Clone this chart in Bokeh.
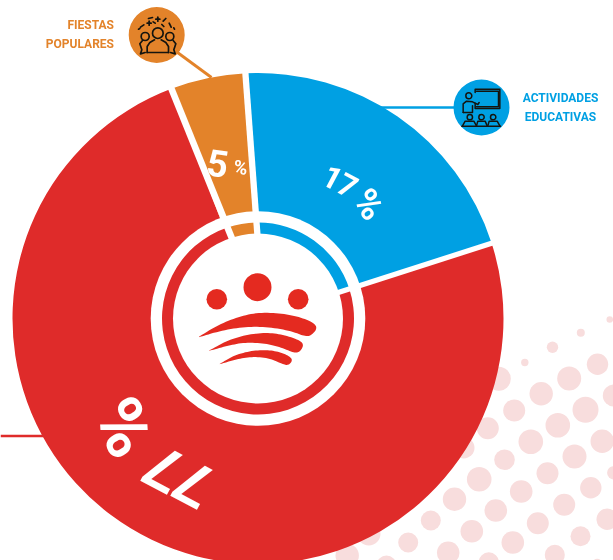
import math
from bokeh.plotting import figure
from bokeh.models import Range1d, ColumnDataSource
from bokeh.embed import file_html
from bokeh.resources import INLINE
from bokeh.core.properties import value

# ---- data ----
categories = ["ACTIVIDADES EDUCATIVAS", "OTRAS", "FIESTAS POPULARES"]
pct_labels = ["17 %", "77 %", "5 %"]
slice_colors = ["#00A0E3", "#DF2B2A", "#E3832A"]
# drawn sweep of each slice as measured on the reference, degrees clockwise from the top
slice_sweep = [74.7, 267.3, 18.0]
slice_start = -2.7
ring_sweep = [72.6, 269.4, 18.0]
ring_start = -0.6

# background halftone dots (page px)
dot_x = [609.3, 580.3, 552, 524.3, 597, 568.7, 540.7, 513.7, 498.3, 613.3, 585, 557.3, 530.3, 487.3, 463.3,
         601.7, 574, 547, 504, 478.7, 520.7, 454, 495.3, 590.3, 563.7, 537.3, 580, 606.7, 512.3, 471.3, 430.3,
         407.7, 447.7, 368.3, 346.7, 554.3, 488.3, 386, 613.3, 596.7]
dot_y = [319, 332.3, 346.7, 362, 363.7, 378, 393.3, 410, 378.3, 395, 409.3, 424.7, 441.3, 427.7, 447.3,
         440.7, 456, 472.7, 459.3, 478.7, 491, 498.7, 510, 487.3, 504.3, 522.7, 535.7, 518.7, 542, 530.7, 520,
         542, 552.3, 533.3, 555, 554.3, 561.7, 565, 472.3, 563.3]
dot_r = [3.3, 4, 5.7, 3.7, 10.7, 12, 11.7, 11, 12, 11, 13, 12.3, 12.3, 11, 10.7,
         11.7, 12, 11, 10.3, 12.3, 11.3, 11.7, 11.3, 10.7, 11, 11, 10, 10.7, 11.3, 11.3, 10,
         10, 11.3, 11.7, 11.7, 10, 10, 10, 6.7, 5]

H = 560
CX, CY = 257.5, 318.0
Y = lambda v: H - v

p = figure(width=613, height=560, output_backend="svg", toolbar_location=None,
           x_range=Range1d(0, 613), y_range=Range1d(0, H), min_border=0,
           background_fill_color="white", border_fill_color="white")
p.xaxis.visible = False
p.yaxis.visible = False
p.grid.visible = False
p.outline_line_color = None
p.styles = {"position": "fixed", "left": "0px", "top": "0px"}

p.circle(dot_x, [Y(v) for v in dot_y], radius=dot_r, fill_color="#F8DDDD", line_color=None)

# leader lines
p.line([177, 211], [Y(52), Y(77)], line_color="#E3832A", line_width=2.8)
p.line([380, 460], [Y(107), Y(107)], line_color="#00A0E3", line_width=2.6)
p.line([0, 45], [Y(435.5), Y(435.5)], line_color="#DF2B2A", line_width=2.6)


def wedges(start, sweeps, inner, outer):
    a = start
    for s, col in zip(sweeps, slice_colors):
        # clockwise from top -> math angle
        p.annular_wedge(CX, Y(CY), inner_radius=inner, outer_radius=outer,
                        start_angle=math.radians(90 - a - s), end_angle=math.radians(90 - a),
                        fill_color=col, line_color=None)
        a += s


wedges(slice_start, slice_sweep, 100, 245.5)
p.circle(CX, Y(CY), radius=107.3, fill_color="white", line_color=None)
wedges(ring_start, ring_sweep, 80, 96)

# white gaps between the slices converge slightly off-centre
gap_x0 = [263, 263, 263]
gap_y0 = [316, 316, 316]
gap_x1 = [244.4, 168, 495]
gap_y1 = [66, 81, 241.5]
gap_w = [6.3, 6.6, 5.2]
p.segment(gap_x0, [Y(v) for v in gap_y0], gap_x1, [Y(v) for v in gap_y1],
          line_color="white", line_width=gap_w)
p.circle(CX, Y(CY), radius=85, fill_color="white", line_color=None)

# central emblem
LOGO = "#E42A20"
p.circle([257, 216.3, 297.7], [Y(286.7), Y(298.7), Y(298.7)], radius=[14, 10.3, 10.3],
         fill_color=LOGO, line_color=None)
sw = [
    [(176, 408), (230, 375), (290, 350), (350, 336), (420, 338), (480, 350), (522, 368), (530, 385), (512, 405),
     (495, 408), (450, 391), (380, 379), (310, 379), (240, 391), (176, 410)],
    [(206, 450), (260, 420), (320, 402), (380, 396), (430, 403), (480, 420), (490, 435), (477, 455), (460, 457),
     (420, 440), (370, 428), (310, 426), (260, 436), (206, 451)],
    [(238, 490), (280, 465), (330, 451), (380, 448), (420, 455), (452, 470), (455, 483), (442, 495), (425, 490),
     (380, 471), (330, 469), (285, 477), (238, 491)],
]


def smooth(pts, rounds=3):
    for _ in range(rounds):
        out = [pts[0]]
        for a, b in zip(pts[:-1], pts[1:]):
            out.append((0.75 * a[0] + 0.25 * b[0], 0.75 * a[1] + 0.25 * b[1]))
            out.append((0.25 * a[0] + 0.75 * b[0], 0.25 * a[1] + 0.75 * b[1]))
        out.append(pts[-1])
        pts = out
    return pts


sw = [smooth(s) for s in sw]
p.patches([[140 + x / 3 for x, _ in s] for s in sw], [[Y(200 + y / 3) for _, y in s] for s in sw],
          fill_color=LOGO, line_color=None)

# icon discs
p.circle([156.2, 481], [Y(34.5), Y(107)], radius=28, fill_color=["#E3832A", "#00A0E3"], line_color=None)

INK = "#14140F"


def icon_lines(ox, oy, paths, w=1.3):
    p.multi_line([[ox + x / 3 for x, _ in q] for q in paths], [[Y(oy + y / 3) for _, y in q] for q in paths],
                 line_color=INK, line_width=w, line_cap="round", line_join="round")


def icon_rings(ox, oy, items, w=1.3):
    p.circle([ox + c[0] / 3 for c in items], [Y(oy + c[1] / 3) for c in items], radius=[c[2] / 3 for c in items],
             fill_color=None, line_color=INK, line_width=w)


# crowd icon
icon_rings(128, 6, [(88, 80, 16), (50, 90, 12), (124, 90, 12)], 1.7)
icon_lines(128, 6, [
    [(56, 138), (56, 120), (64, 108), (78, 100)],
    [(120, 138), (120, 120), (112, 108), (98, 100)],
    [(56, 138), (120, 138)],
    [(42, 102), (34, 112), (40, 130), (36, 142), (50, 138)],
    [(134, 102), (142, 112), (136, 130), (140, 142), (126, 138)],
    [(36, 62), (46, 55)], [(60, 36), (72, 33)], [(88, 32), (88, 44)], [(82, 38), (94, 38)],
    [(104, 44), (112, 36)], [(122, 50), (128, 62)], [(56, 50), (68, 50)], [(62, 44), (62, 56)],
    [(100, 54), (106, 60)], [(30, 68), (34, 66)], [(74, 46), (80, 50)], [(136, 64), (138, 68)],
], 1.7)

# classroom icon
icon_rings(452, 78, [(49, 52, 9), (52, 116, 8), (87, 116, 8), (122, 116, 8)], 1.5)
icon_lines(452, 78, [
    [(68, 42), (68, 32), (142, 32), (142, 90), (68, 90), (68, 74)],
    [(72, 38), (138, 38), (138, 85), (72, 85)],
    [(32, 102), (32, 76), (42, 68), (60, 70), (76, 78), (80, 72)],
    [(32, 102), (60, 102), (60, 82)],
    [(30, 142), (38, 128), (64, 128), (72, 142)],
    [(72, 142), (76, 128), (98, 128), (104, 142)],
    [(106, 142), (110, 128), (134, 128), (142, 142)],
    [(28, 143), (144, 143)],
], 1.5)

# category labels
cat_txt = ["FIESTAS", "POPULARES", "ACTIVIDADES", "EDUCATIVAS"]
cat_x = [113.5, 113.5, 560, 560]
cat_y = [24, 43, 97, 116]
cat_col = ["#E3832A", "#E3832A", "#00A0E3", "#00A0E3"]
cat_al = ["right", "right", "center", "center"]
p.text(cat_x, [Y(v) for v in cat_y], text=cat_txt, text_color=cat_col, text_align=cat_al,
       text_baseline="middle", text_font=value("Roboto"), text_font_style="bold", text_font_size="12px")

# percentage labels (digits spaced out individually as on the reference)
pct_txt = ["7", "7", "%", "1", "7", "%", "5", "%"]
pct_x = [193, 163, 123, 332, 347, 368, 217, 240]
pct_y = [483, 468, 427, 177, 185, 204, 163, 167]
pct_a = [152, 152, -58, -28, -28, -50, -8, -8]
pct_s = ["60px", "60px", "72px", "31px", "31px", "37px", "37px", "19px"]
src = ColumnDataSource(dict(x=pct_x, y=[Y(v) for v in pct_y], t=pct_txt, a=pct_a, s=pct_s))
p.text("x", "y", text="t", angle="a", angle_units="deg", text_font_size="s", source=src, text_color="white",
       text_align="center", text_baseline="middle", text_font=value("Roboto"), text_font_style="bold")

open("out.html", "w").write(file_html(p, INLINE))
